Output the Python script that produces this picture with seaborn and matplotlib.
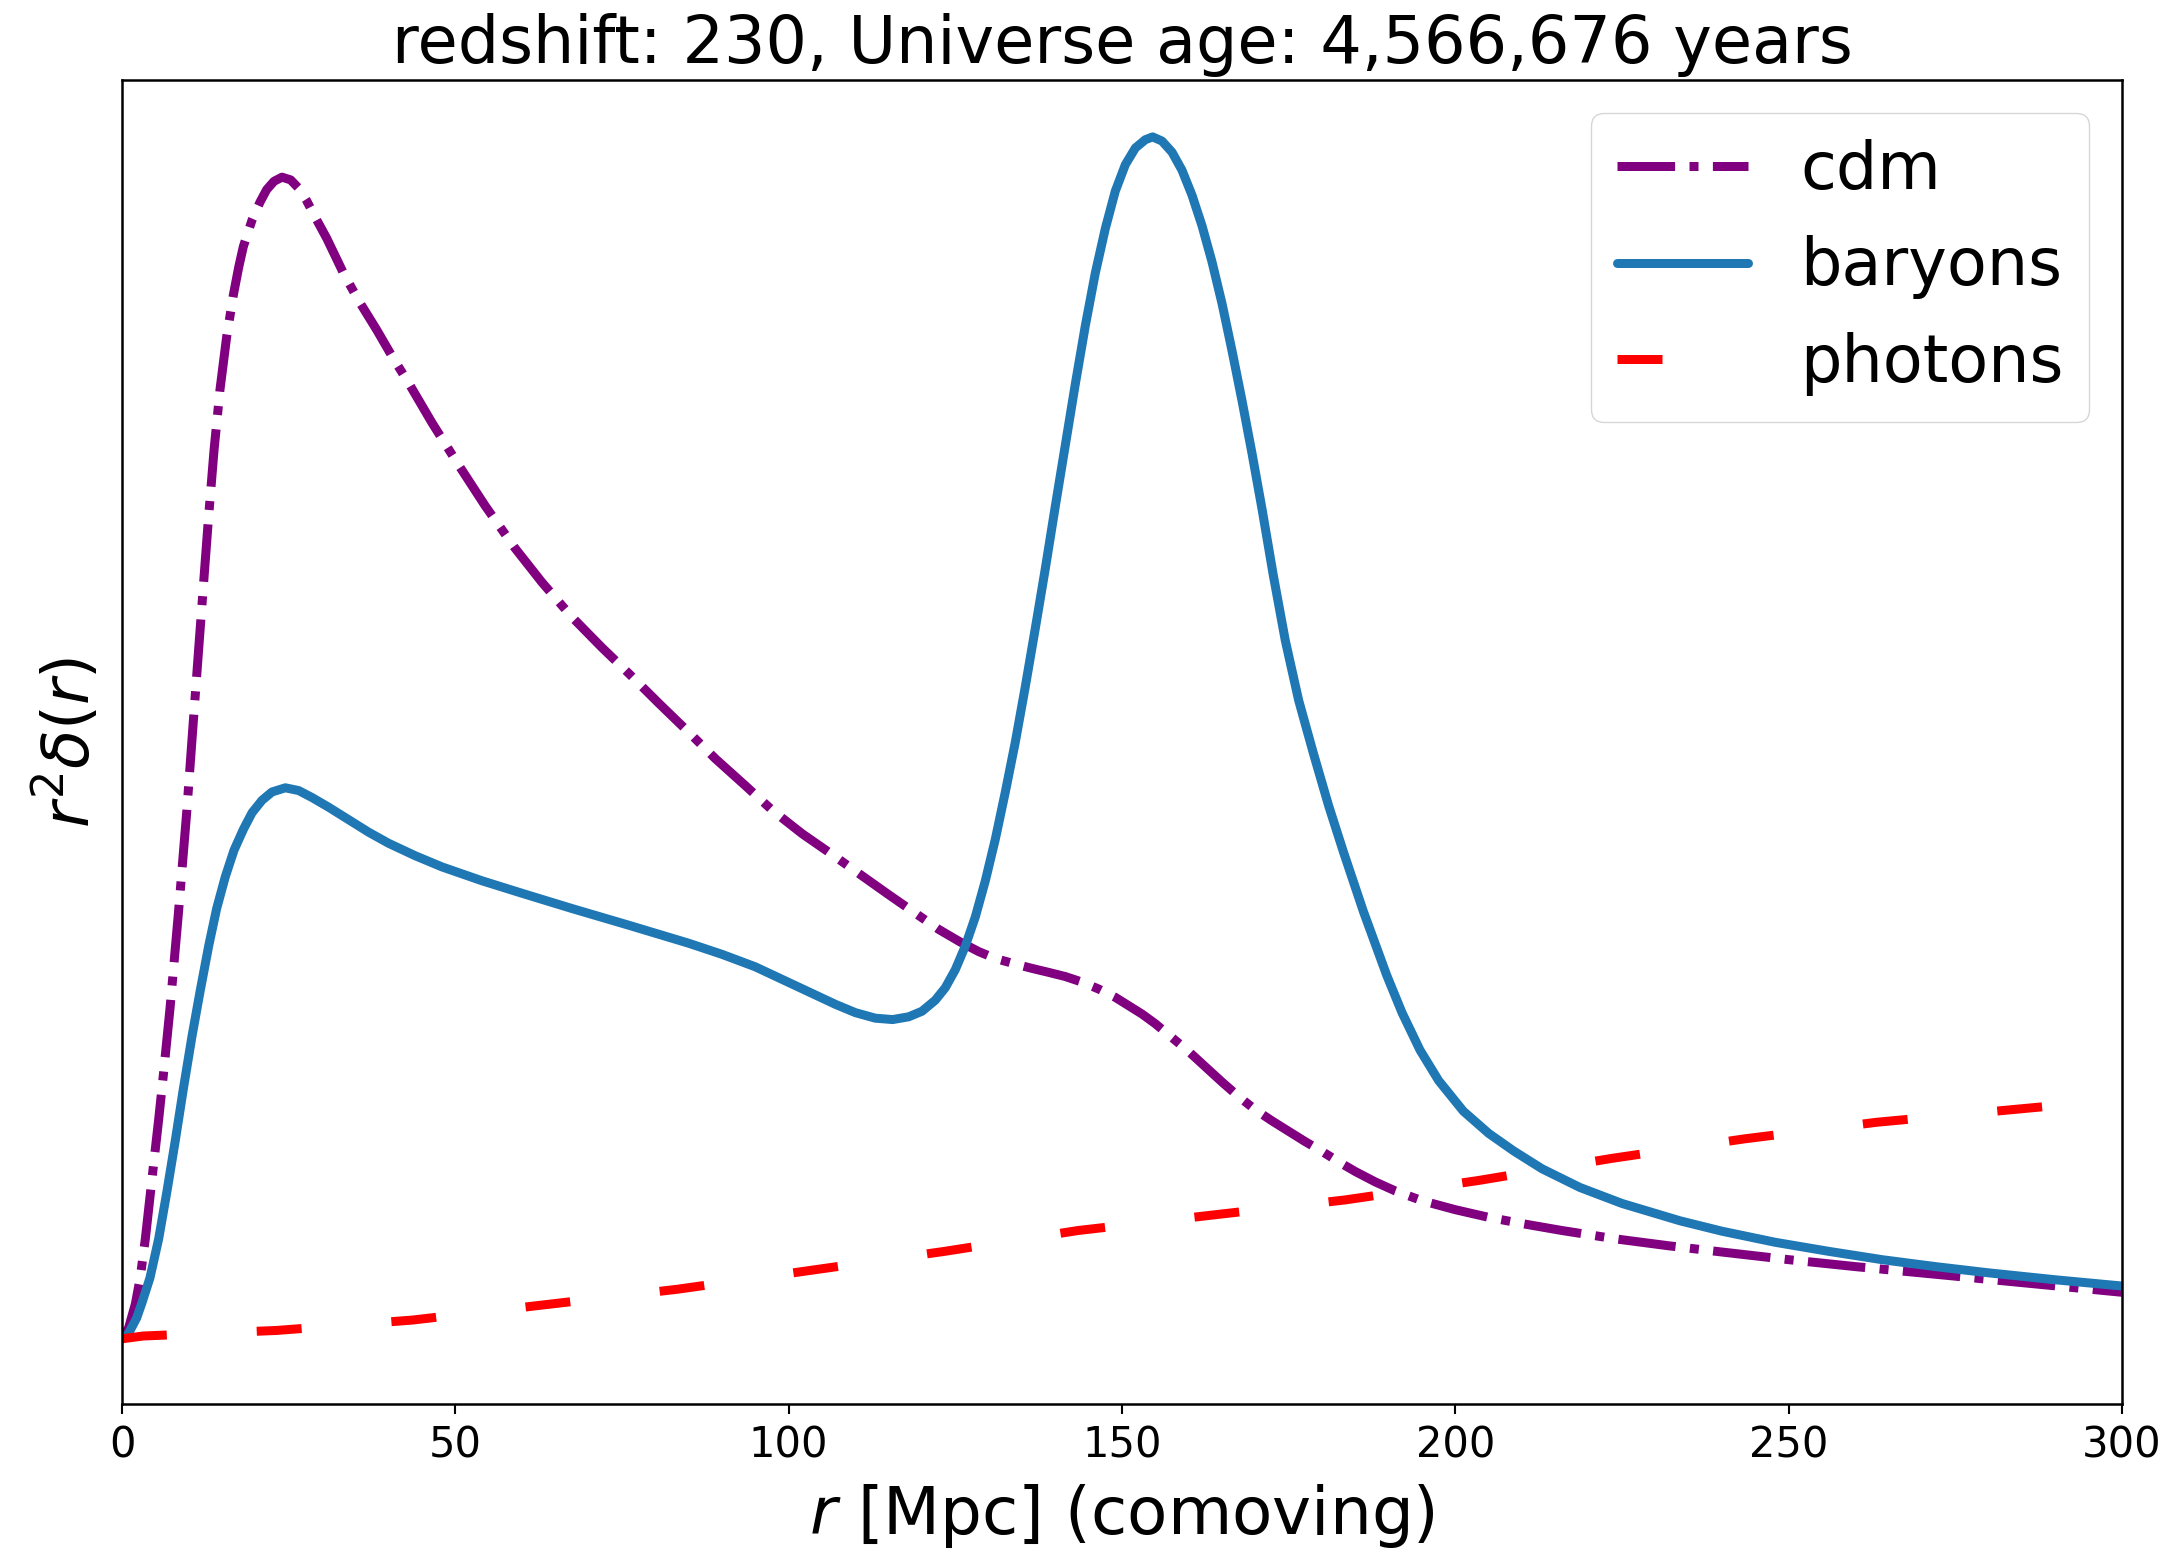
import matplotlib
matplotlib.use("Agg")
import matplotlib.pyplot as plt
import seaborn as sns

# ---- data (arbitrary y units) ----
r_cdm = [0, 1, 2, 2.7, 3.5, 4.7, 5.5, 6.2, 7.2, 8.45, 9.7, 10.7, 11.7, 12.95, 13.8,
         14.7, 15.7, 16.7, 17.5, 18.2, 19.5, 20.7, 21.7, 22.8, 24, 25.3, 26.5, 27.7,
         29, 30.7, 32, 33.2, 35.5, 38.2, 40.5, 43.2, 46.5, 50.3, 54.5, 58.9, 63, 67.5,
         72, 76.1, 80.5, 84.8, 89, 93.4, 97.5, 102, 106.5, 110.6, 115, 119.2, 122.5,
         125.7, 128.5, 131, 134, 136.4, 139, 141.5, 144, 146.5, 149, 151, 153, 155,
         157.5, 160, 162.5, 165, 167.5, 170, 172.5, 175, 177.5, 180, 182.5, 185, 188,
         191, 195, 200, 205, 210, 216, 224, 232, 240, 250, 260, 272, 286, 300]
y_cdm = [0, 0.08, 0.25, 0.43, 0.72, 1.24, 1.58, 1.90, 2.38, 3.06, 3.79, 4.45, 5.10, 5.90,
         6.40, 6.84, 7.22, 7.52, 7.72, 7.87, 8.06, 8.19, 8.28, 8.34, 8.37, 8.35, 8.29,
         8.20, 8.08, 7.93, 7.80, 7.68, 7.48, 7.27, 7.08, 6.87, 6.60, 6.31, 6.00, 5.70,
         5.45, 5.20, 4.98, 4.79, 4.58, 4.38, 4.18, 3.99, 3.81, 3.64, 3.49, 3.35, 3.20,
         3.06, 2.95, 2.86, 2.79, 2.74, 2.70, 2.67, 2.64, 2.61, 2.57, 2.52, 2.46, 2.40,
         2.34, 2.27, 2.17, 2.07, 1.96, 1.85, 1.745, 1.65, 1.57, 1.495, 1.42, 1.35, 1.275,
         1.205, 1.13, 1.065, 0.995, 0.93, 0.875, 0.83, 0.78, 0.72, 0.67, 0.625, 0.57,
         0.52, 0.465, 0.40, 0.335]

r_bar = [0, 1, 2.2, 3, 4.2, 5.5, 6.7, 8, 9.2, 10.5, 11.7, 13, 14.2, 15.5, 16.8, 18.2,
         19.5, 21, 22.5, 24.5, 26.5, 28.5, 31, 34, 37, 40, 44, 48, 54, 60, 67.5, 76, 85,
         90, 95, 99, 103, 107, 110, 113, 115.6, 118, 120, 122, 123.5, 125, 126.5, 128,
         129.5, 131, 132.5, 134, 135.5, 137, 138.5, 140, 141.5, 143, 144.5, 146, 147.5,
         149, 150.5, 152, 153.5, 154.6, 156, 157.5, 159, 160.5, 162, 163.5, 165, 166.5,
         168, 169.5, 171, 172.7, 174.5, 176.5, 178.7, 181, 183.2, 186.2, 189.7, 192,
         194.7, 197.5, 201.2, 205, 208.7, 213, 218.7, 225, 233.7, 240, 248, 256, 264,
         272, 280, 290, 300]
y_bar = [0, 0.04, 0.15, 0.26, 0.44, 0.72, 1.05, 1.43, 1.80, 2.18, 2.50, 2.83, 3.10, 3.33,
         3.52, 3.67, 3.79, 3.88, 3.94, 3.97, 3.95, 3.90, 3.83, 3.74, 3.65, 3.57, 3.48,
         3.40, 3.30, 3.21, 3.10, 2.98, 2.85, 2.77, 2.68, 2.59, 2.50, 2.41, 2.35, 2.31,
         2.30, 2.32, 2.36, 2.44, 2.53, 2.66, 2.83, 3.04, 3.30, 3.60, 3.94, 4.30, 4.70,
         5.12, 5.55, 6.00, 6.44, 6.88, 7.30, 7.68, 8.00, 8.27, 8.46, 8.58, 8.64, 8.66,
         8.63, 8.55, 8.42, 8.24, 8.02, 7.76, 7.46, 7.12, 6.76, 6.38, 5.98, 5.50, 5.03,
         4.60, 4.22, 3.84, 3.51, 3.08, 2.62, 2.35, 2.08, 1.86, 1.64, 1.48, 1.355, 1.225,
         1.09, 0.975, 0.85, 0.775, 0.695, 0.63, 0.57, 0.52, 0.475, 0.425, 0.38]

r_ph = [0, 3.2, 23.2, 43.6, 63.4, 83.5, 103.6, 123.4, 143.4, 163.3, 183.4, 203.4,
        223.5, 243.3, 263.2, 283.3, 290]
y_ph = [0, 0.02, 0.06, 0.135, 0.245, 0.358, 0.495, 0.63, 0.78, 0.89, 1.0, 1.14,
        1.30, 1.44, 1.56, 1.65, 1.68]

labels = ["cdm", "baryons", "photons"]
title_text = "redshift: 230, Universe age: 4,566,676 years"
x_ticks = [0, 50, 100, 150, 200, 250, 300]

# ---- style ----
sns.set_theme(style="ticks", rc={
    "axes.edgecolor": "black",
    "axes.linewidth": 1.8,
    "xtick.major.size": 7,
    "xtick.major.width": 1.5,
    "xtick.color": "black",
    "axes.labelcolor": "black",
    "text.color": "black",
    "legend.framealpha": 0.8,
    "legend.edgecolor": "0.8",
    "legend.fancybox": True,
})
plt.rcParams["font.family"] = ["DejaVu Sans"]
plt.rcParams["mathtext.fontset"] = "dejavusans"

fig = plt.figure(figsize=(21.75, 15.51), dpi=100)
ax = fig.add_axes([122 / 2175, 1 - 1404 / 1551, 2000 / 2175, 1324 / 1551])

lw = 6.48
sns.lineplot(x=r_cdm, y=y_cdm, ax=ax, color="purple", linestyle="-.", lw=lw,
             label=labels[0], sort=False, estimator=None)
sns.lineplot(x=r_bar, y=y_bar, ax=ax, color="#1f77b4", linestyle="-", lw=lw,
             label=labels[1], sort=False, estimator=None)
sns.lineplot(x=r_ph, y=y_ph, ax=ax, color="red", linestyle=(0, (5, 10)), lw=lw,
             label=labels[2], sort=False, estimator=None)

ax.set_xlim(0, 300)
ax.set_ylim(-0.47, 9.07)
ax.set_xticks(x_ticks)
ax.set_yticks([])
ax.tick_params(axis="x", labelsize=30, pad=8)
ax.set_xlabel(r"$r$ [Mpc] (comoving)", fontsize=47.5, labelpad=11)
ax.set_ylabel(r"$r^2\delta(r)$", fontsize=46, labelpad=14)
ax.set_title(title_text, fontsize=47, pad=12)
ax.legend(loc="upper right", fontsize=47)

fig.savefig("out.png", dpi=100)
